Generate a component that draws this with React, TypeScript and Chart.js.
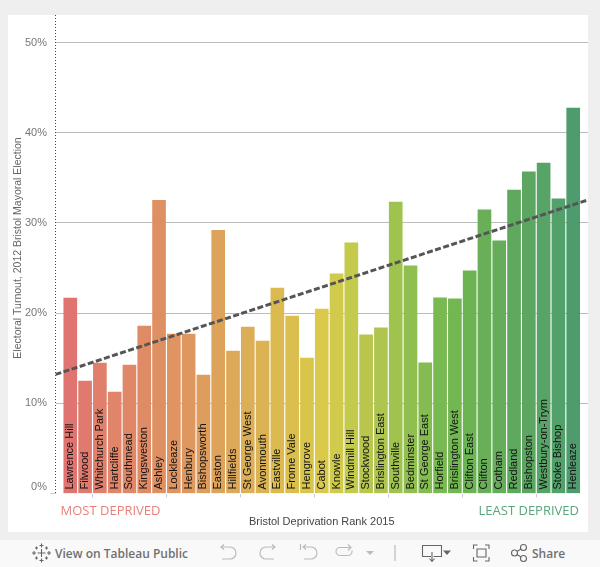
import React, { useEffect, useRef } from "react";
import { Chart, registerables } from "chart.js";

Chart.register(...registerables);

const wards = ["Lawrence Hill","Filwood","Whitchurch Park","Hartcliffe","Southmead","Kingsweston","Ashley","Lockleaze","Henbury","Bishopsworth","Easton","Hillfields","St George West","Avonmouth","Eastville","Frome Vale","Hengrove","Cabot","Knowle","Windmill Hill","Stockwood","Brislington East","Southville","Bedminster","St George East","Horfield","Brislington West","Clifton East","Clifton","Cotham","Redland","Bishopston","Westbury-on-Trym","Stoke Bishop","Henleaze"];
const ranks = [1,2,3,4,5,6,7,8,9,10,11,12,13,14,15,16,17,18,19,20,21,22,23,24,25,26,27,28,29,30,31,32,33,34,35];
const turnout = [21.66,12.47,14.46,11.25,14.24,18.56,32.5,17.68,17.68,13.14,29.19,15.79,18.45,16.9,22.77,19.67,15.02,20.44,24.35,27.79,17.6,18.38,32.32,25.24,14.5,21.7,21.59,24.69,31.44,28.0,33.65,35.65,36.64,32.66,42.73];
const barColors = ["#E07470","#E17A6E","#E0806C","#E0846A","#E08768","#DF8B65","#DF9063","#DF9461","#DE985F","#DE9C5D","#DDA35B","#DCA859","#DCAE56","#DBB354","#DBBA50","#DABF4E","#DAC54B","#DAC94A","#D0CB4C","#C3CA4C","#B9C64E","#AEC650","#9FC34E","#90BF50","#84BC51","#78B951","#72B752","#6CB354","#69AF58","#65AC5B","#5FA95F","#5CA662","#58A366","#52A06A","#4E9B6E"];
const trendRanks = [0, 36];
const trendValues = [13.2, 32.55];

const overlay = {
  id: "overlay",
  beforeDatasetsDraw(chart: any) {
    const { ctx, chartArea } = chart;
    ctx.save();
    ctx.strokeStyle = "#444";
    ctx.lineWidth = 1;
    ctx.setLineDash([1, 2]);
    ctx.beginPath();
    ctx.moveTo(55.5, chartArea.top);
    ctx.lineTo(55.5, chartArea.bottom);
    ctx.stroke();
    ctx.restore();
  },
  afterDatasetsDraw(chart: any) {
    const { ctx, scales } = chart;
    ctx.save();
    ctx.fillStyle = "#111";
    ctx.font = "11px 'Liberation Sans'";
    ctx.textAlign = "left";
    ctx.textBaseline = "middle";
    wards.forEach((w, i) => {
      ctx.save();
      ctx.translate(scales.x.getPixelForValue(ranks[i]), 489.5);
      ctx.rotate(-Math.PI / 2);
      ctx.fillText(w, 0, 0);
      ctx.restore();
    });
    ctx.fillStyle = "#777";
    ctx.font = "11px 'Liberation Sans'";
    ctx.textAlign = "right";
    ctx.fillText("0%", 47, 486.5);
    ctx.save();
    ctx.fillStyle = "#666";
    ctx.font = "10.5px 'Liberation Sans'";
    ctx.textAlign = "center";
    ctx.translate(18, 248);
    ctx.rotate(-Math.PI / 2);
    ctx.fillText("Electoral Turnout, 2012 Bristol Mayoral Election", 0, 0);
    ctx.restore();
    ctx.font = "13px 'Open Sans'";
    ctx.textAlign = "left";
    ctx.fillStyle = "#E8807C";
    ctx.fillText("MOST DEPRIVED", 60.5, 511.5);
    ctx.textAlign = "right";
    ctx.fillStyle = "#5AA57A";
    ctx.fillText("LEAST DEPRIVED", 579, 511.5);
    ctx.restore();
  },
};

const iconStroke = { fill: "none", stroke: "#bbb", strokeWidth: 1.2 };
const darkStroke = { fill: "none", stroke: "#666", strokeWidth: 1.1 };

function Toolbar() {
  const text: React.CSSProperties = { position: "absolute", top: 5, font: "600 12px 'Open Sans'", color: "#707070", whiteSpace: "nowrap", lineHeight: "17px" };
  return (
    <div style={{ position: "absolute", left: 0, top: 540, width: 600, height: 27, background: "#f9f9f9" }}>
      <span style={{ ...text, left: 55 }}>View on Tableau Public</span>
      <span style={{ ...text, left: 532 }}>Share</span>
      <svg width={600} height={27} style={{ position: "absolute", left: 0, top: 0 }}>
        <g {...darkStroke}>
          <path d="M41.500 9v8M37.500 13h8M41.500 3.500v4M39.500 5.500h4M41.500 18.500v4M39.500 20.500h4M34 11v4M32 13h4M49 11v4M47 13h4M36.500 6.500v3M35 8h3M46.500 6.500v3M45 8h3M36.500 16.500v3M35 18h3M46.500 16.500v3M45 18h3" />
          <path d="M431 16.500h-8.500v-11h19v11h-8M432 12v9M429.500 18.500l2.500 3 2.500-3" />
          <path d="M473.500 9v-4h4M485 5h4v4M473.500 17v4h4M485 21h4v-4M477 9h9v8h-9z" />
          <circle cx={514.500} cy={13} r={3} />
          <circle cx={523.500} cy={7.500} r={3} />
          <circle cx={523.500} cy={18.500} r={3} />
          <path d="M517 11.500l4-2.500M517 14.500l4 2.500" />
        </g>
        <g {...iconStroke}>
          <path d="M222 7h8a5.500 5.500 0 0 1 0 12h-8M224 4.500l-3 2.500 3 2.500" />
          <path d="M274 7h-8a5.500 5.500 0 0 0 0 12h8M272 4.500l3 2.500-3 2.500" />
          <path d="M304 7h7a5.500 5.500 0 0 1 0 12h-7M306 4.500l-3 2.500 3 2.500M300.500 4v6" />
          <path d="M350 7.500h-10a4 4 0 0 0 0 8h8a4 4 0 0 0 4-4v-1M348 4.500l3 3-3 3" />
          <path d="M395 5v16" />
        </g>
        <path d="M366 11h8l-4 4z" fill="#bbb" />
        <path d="M443 10.500h8l-4 4.500z" fill="#666" />
      </svg>
    </div>
  );
}

export default function App() {
  const ref = useRef<HTMLCanvasElement>(null);
  useEffect(() => {
    const chart = new Chart(ref.current as HTMLCanvasElement, {
      type: "bar",
      data: {
        datasets: [
          {
            type: "line",
            data: trendRanks.map((x, i) => ({ x, y: trendValues[i] })),
            borderColor: "#555",
            borderWidth: 3,
            borderDash: [6, 2.5],
            pointRadius: 0,
            fill: false,
            order: 0,
          },
          {
            type: "bar",
            data: ranks.map((x, i) => ({ x, y: turnout[i] })),
            backgroundColor: barColors,
            barThickness: 13,
            order: 1,
          },
        ],
      } as any,
      plugins: [overlay],
      options: {
        animation: false,
        responsive: false,
        layout: { padding: { left: 0, right: 12, top: 15, bottom: 0 } },
        plugins: { legend: { display: false }, tooltip: { enabled: false } },
        scales: {
          x: {
            type: "linear",
            min: 0,
            max: 36,
            offset: false,
            afterFit: (s: any) => { s.height = 73.5; },
            grid: { drawOnChartArea: false, tickColor: "#ccc", tickLength: 4 },
            border: { display: false },
            ticks: { display: false, stepSize: 5, includeBounds: false, autoSkip: false },
            title: {
              display: true,
              text: "Bristol Deprivation Rank 2015",
              color: "#444",
              font: { family: "'Liberation Sans'", size: 11 },
              padding: { top: 0, bottom: 38 },
            },
          },
          y: {
            type: "linear",
            min: 0,
            max: 53.05,
            afterFit: (s: any) => { s.width = 55.5; },
            grid: {
              color: (c: any) => (c.tick && c.tick.value === 0 ? "rgba(0,0,0,0)" : "#bbb"),
              tickColor: (c: any) => (c.tick && c.tick.value === 0 ? "#ccc" : "rgba(0,0,0,0)"),
              tickLength: 5,
            },
            border: { display: false },
            ticks: {
              stepSize: 10,
              includeBounds: false,
              padding: 3.5,
              color: "#777",
              font: { family: "'Liberation Sans'", size: 11 },
              callback: (v: any) => (v === 0 ? "" : v + "%"),
            },
          },
        },
      } as any,
    });
    return () => chart.destroy();
  }, []);
  return (
    <div style={{ position: "absolute", left: 0, top: 0, width: 600, height: 567, background: "#efefef", overflow: "hidden" }}>
      <div style={{ position: "absolute", left: 8, top: 15, width: 580, height: 517, background: "#fff" }} />
      <Toolbar />
      <canvas ref={ref} width={600} height={567} style={{ position: "absolute", left: 0, top: 0, display: "block" }} />
    </div>
  );
}
